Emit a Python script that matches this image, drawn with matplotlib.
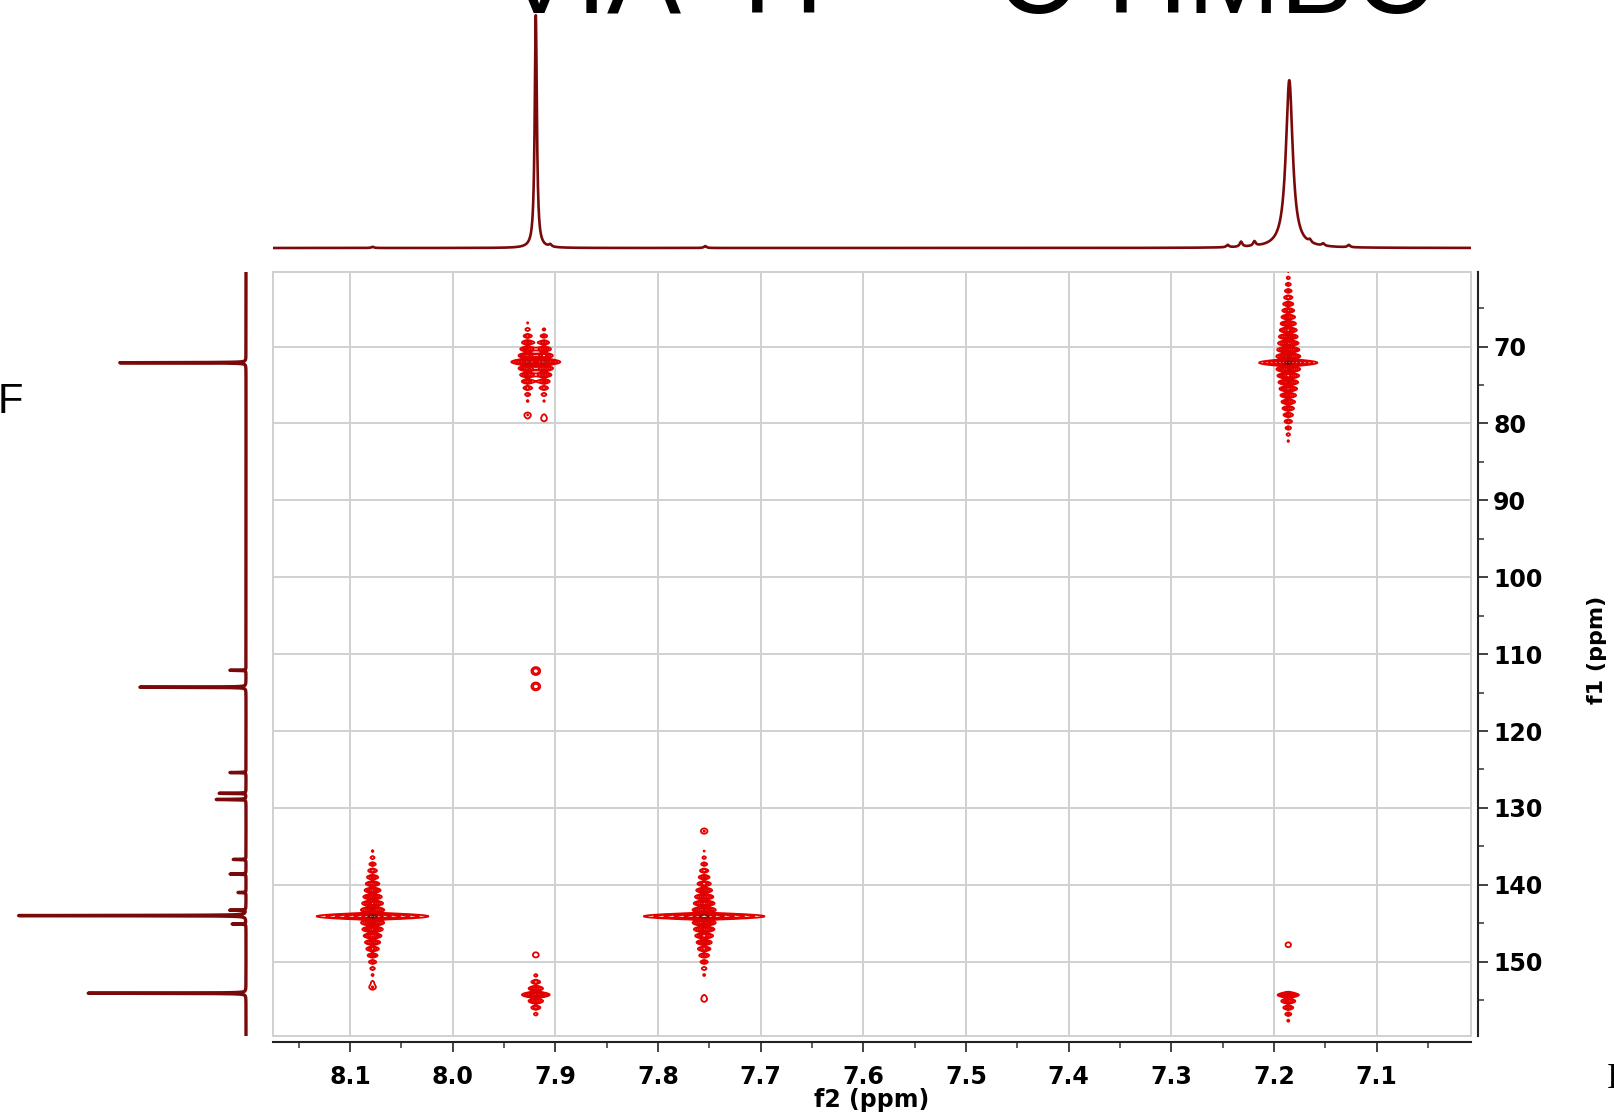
import numpy as np
import matplotlib.pyplot as plt
from matplotlib.patches import Rectangle
from matplotlib.ticker import MultipleLocator, FormatStrFormatter
from matplotlib.colors import LinearSegmentedColormap

W, H = 1615, 1116

# axis ranges (ppm)
f2_range = (8.175, 7.008)
f1_range = (159.6, 60.3)

# 1H projection (top): shift, relative height, line width (ppm)
h1_ppm = [8.078, 7.919, 7.905, 7.754, 7.245, 7.232, 7.219, 7.185, 7.165, 7.152, 7.127]
h1_int = [0.005, 1.0, 0.010, 0.008, 0.010, 0.022, 0.020, 0.72, 0.012, 0.010, 0.010]
h1_fwhm = [0.003, 0.0025, 0.003, 0.003, 0.003, 0.003, 0.003, 0.008, 0.003, 0.003, 0.003]

# 13C projection (left)
c13_ppm = [72.1, 112.1, 114.3, 125.4, 128.1, 128.9, 136.7, 138.6, 141.0, 143.3, 144.0, 145.1, 154.1]
c13_int = [0.55, 0.07, 0.465, 0.07, 0.117, 0.13, 0.056, 0.07, 0.035, 0.07, 1.0, 0.06, 0.687]

# HMBC cross peaks: f2, f1, intensity, streak extent up/down (f1 ppm), horizontal half extent (f2 ppm)
cross_f2 = [8.078, 7.755, 7.927, 7.911, 7.186, 7.919, 7.186]
cross_f1 = [144.1, 144.1, 72.0, 72.0, 72.1, 154.3, 154.3]
cross_int = [1.0, 1.0, 0.55, 0.55, 1.0, 0.45, 0.35]
cross_up = [8.3, 8.1, 5.9, 5.3, 11.6, 3.6, 0.6]
cross_down = [7.6, 7.6, 6.1, 6.0, 9.9, 3.7, 5.0]
cross_half = [0.050, 0.054, 0.016, 0.016, 0.026, 0.014, 0.010]

# small round spots (weak correlations and noise dots): f2, f1, intensity
spot_f2 = [7.919, 7.919, 8.078, 7.755, 7.755, 7.919, 7.186, 7.927, 7.911]
spot_f1 = [112.2, 114.2, 153.2, 133.0, 154.8, 149.1, 147.8, 79.0, 79.3]
spot_int = [0.085, 0.085, 0.045, 0.045, 0.045, 0.045, 0.045, 0.045, 0.045]


def lorentz(grid, centers, heights, widths):
    out = np.zeros_like(grid)
    for c, h, w in zip(centers, heights, widths):
        g = (w / 2) ** 2
        out += h * g / ((grid - c) ** 2 + g)
    return out


x = np.linspace(f2_range[0], f2_range[1], 1600)
y = np.linspace(f1_range[1], f1_range[0], 1100)
X, Y = np.meshgrid(x, y)


def cross_peak(x0, y0, amp, up, down, half_w):
    dy = Y - y0
    dx = X - x0
    ly = np.where(dy < 0, up, down) / 3.2
    mod = 0.1 + 0.9 * np.cos(np.pi * dy / 0.85) ** 2
    vert = np.exp(-np.abs(dy) / ly) * mod * np.exp(-np.abs(dx) / 0.0036)
    horiz = np.exp(-np.abs(dx) / (half_w / 3.2)) * np.exp(-(dy / 0.25) ** 2)
    return amp * (vert + horiz)


Z = np.zeros_like(X)
for i in range(len(cross_f2)):
    Z += cross_peak(cross_f2[i], cross_f1[i], cross_int[i], cross_up[i], cross_down[i], cross_half[i])
for a, b, c in zip(spot_f2, spot_f1, spot_int):
    Z += c * np.exp(-((X - a) / 0.0042) ** 2 - ((Y - b) / 0.5) ** 2)

fig = plt.figure(figsize=(W / 100, H / 100), dpi=100)
plt.rcParams['font.weight'] = 'bold'

ax = fig.add_axes([273 / W, 1 - 1035.5 / H, 1198 / W, 763.5 / H])
levels = 0.03 * 1.8 ** np.arange(8)
cmap = LinearSegmentedColormap.from_list('nmr', ['#e60000', '#d40000', '#8a0000', '#300000'])
ax.contour(X, Y, Z, levels=levels, cmap=cmap, linewidths=1.3)

ax.set_xlim(*f2_range)
ax.set_ylim(*f1_range)
ax.xaxis.set_major_locator(MultipleLocator(0.1))
ax.xaxis.set_minor_locator(MultipleLocator(0.05))
ax.xaxis.set_major_formatter(FormatStrFormatter('%.1f'))
ax.yaxis.set_major_locator(MultipleLocator(10))
ax.yaxis.set_minor_locator(MultipleLocator(5))
ax.yaxis.tick_right()
ax.grid(True, which='major', color='#d0d0d0', lw=1.4)
ax.set_axisbelow(True)

for s in ['left', 'top']:
    ax.spines[s].set_visible(False)
for s in ['right', 'bottom']:
    ax.spines[s].set_position(('outward', 5))
    ax.spines[s].set_color('#222222')
    ax.spines[s].set_linewidth(1.5)
ax.add_patch(Rectangle((0, 0), 1, 1, transform=ax.transAxes, fill=False,
                       ec='#d0d0d0', lw=1.4, clip_on=False))

ax.tick_params(axis='both', which='major', length=7, width=1.3, color='#333333', labelsize=17)
ax.tick_params(axis='both', which='minor', length=4, width=1.1, color='#333333')
ax.tick_params(axis='x', pad=9)
ax.tick_params(axis='y', pad=4)

# top 1H projection
axt = fig.add_axes([273 / W, 1 - 252 / H, 1198 / W, 252 / H])
xs = np.linspace(f2_range[0], f2_range[1], 8000)
axt.plot(xs, lorentz(xs, h1_ppm, h1_int, h1_fwhm), color='#7a0a0a', lw=1.9)
axt.set_xlim(*f2_range)
axt.set_ylim(-4 / 233, 248 / 233)
axt.axis('off')

# left 13C projection
axl = fig.add_axes([0, 1 - 1035.5 / H, 252 / W, 763.5 / H])
ys = np.linspace(f1_range[1], f1_range[0], 16000)
axl.plot(lorentz(ys, c13_ppm, c13_int, [0.05] * len(c13_ppm)), ys, color='#7a0a0a', lw=2.4)
axl.set_ylim(*f1_range)
axl.set_xlim(246 / 230, -6 / 230)
axl.axis('off')

fig.text(872 / W, 1 - 1100 / H, 'f2 (ppm)', fontsize=17, ha='center', va='center')
fig.text(1597 / W, 1 - 650 / H, 'f1 (ppm)', fontsize=16, rotation=90, ha='center', va='center')

fig.text(502 / W, 1 - 12.7 / H, 'VIA \u00b9H - \u00b9\u00b3C HMBC', fontsize=80,
         family='Liberation Sans', weight='normal', ha='left', va='baseline')
fig.text(-2 / W, 1 - 413 / H, 'F', fontsize=30, family='Liberation Sans',
         weight='normal', ha='left', va='baseline')
fig.text(1607 / W, 1 - 1088 / H, 'I', fontsize=25, family='Liberation Serif',
         weight='normal', ha='left', va='baseline')

fig.savefig('out.png', dpi=100)
